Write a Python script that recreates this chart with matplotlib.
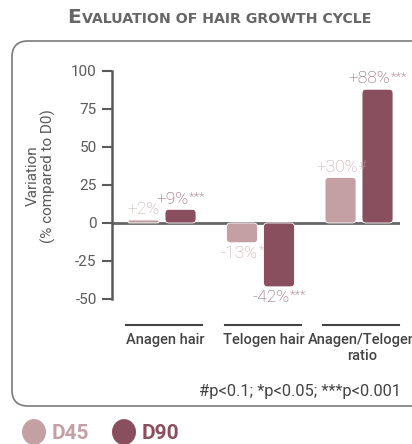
import matplotlib
matplotlib.use("Agg")
import matplotlib.pyplot as plt
from matplotlib.patches import FancyBboxPatch, Circle
from matplotlib.transforms import blended_transform_factory
import numpy as np

categories = ["Anagen hair", "Telogen hair", "Anagen/Telogen\nratio"]
series_names = ["D45", "D90"]
d45_values = [2, -13, 30]
d90_values = [9, -42, 88]
d45_labels = ["+2%", "-13%", "+30%"]
d45_stars = ["", "*", "#"]
d90_labels = ["+9%", "-42%", "+88%"]
d90_stars = ["***", "***", "***"]
yticks = [-50, -25, 0, 25, 50, 75, 100]
title = "Evaluation of hair growth cycle"
footnote = "#p<0.1; *p<0.05; ***p<0.001"
ylabel = "Variation\n(% compared to D0)"

C45 = "#c4a0a5"
C90 = "#8a4f5e"
GRAY = "#5a5a5a"
FONT = "Roboto"

W, H = 412, 444
fig = plt.figure(figsize=(W / 100, H / 100), dpi=100)

def fx(px):
    return px / W

def fy(py):
    return 1 - py / H

ax_l, ax_r, ax_t, ax_b = 112, 400, 71, 299
ax = fig.add_axes([fx(ax_l), fy(ax_b), fx(ax_r - ax_l), (ax_b - ax_t) / H])
ax.set_ylim(-50, 100)
ax.set_xlim(-0.508, 2.416)
ax.patch.set_alpha(0)
for s in ["top", "right", "bottom"]:
    ax.spines[s].set_visible(False)
ax.spines["left"].set_color(GRAY)
ax.spines["left"].set_linewidth(1.8)
ax.set_xticks([])
ax.set_yticks(yticks)
ax.set_yticklabels([str(v) for v in yticks], fontfamily=FONT, fontsize=11, color=GRAY)
ax.tick_params(axis="y", length=7, width=1.5, color=GRAY, pad=4)

ax.axhline(0, color="#666666", lw=2, zorder=1)

px_per_x = (ax_r - ax_l) / (2.416 + 0.508)
px_per_y = (ax_b - ax_t) / 150.0
bw = 31 / px_per_x
off = 18.5 / px_per_x
aspect = px_per_x / px_per_y
r_px = 4.0

def rbar(xc, h, color):
    hpx = abs(h) * px_per_y
    r = min(r_px, hpx / 2) / px_per_x
    y0 = min(0, h)
    p = FancyBboxPatch((xc - bw / 2, y0), bw, abs(h),
                       boxstyle=f"round,pad=0,rounding_size={r}",
                       mutation_aspect=aspect, fc=color, ec="white", lw=0.6, zorder=2)
    ax.add_patch(p)

x = np.arange(len(categories))
for i in range(len(categories)):
    rbar(x[i] - off, d45_values[i], C45)
    rbar(x[i] + off, d90_values[i], C90)

fig.canvas.draw()
renderer = fig.canvas.get_renderer()

def value_label(xc, val, main, star, color):
    if val >= 0:
        va, dy = "bottom", 2
    else:
        va, dy = "top", -2
    t = ax.annotate(main, (xc, val), xytext=(0, dy), textcoords="offset points",
                    ha="center", va=va, fontfamily=FONT, fontweight="light",
                    fontsize=12.5, color=color, annotation_clip=False)
    if not star:
        return
    s = ax.annotate(star, (xc, val), xytext=(0, dy), textcoords="offset points",
                    ha="left", va="top", fontfamily=FONT, fontweight="light",
                    fontsize=9.5, color=color, annotation_clip=False)
    fig.canvas.draw()
    bt = t.get_window_extent(renderer)
    bs = s.get_window_extent(renderer)
    shift = -bs.width / 2
    k = 72 / 100
    t.set_position((shift * k, dy))
    if val >= 0:
        top_off = dy + bt.height * k + 0.5
    else:
        top_off = dy + 0.8
    s.set_position(((shift + bt.width / 2 + 0.5) * k, top_off))

for i in range(len(categories)):
    value_label(x[i] - off, d45_values[i], d45_labels[i], d45_stars[i], C45)
    value_label(x[i] + off, d90_values[i], d90_labels[i], d90_stars[i], C90)

tr = blended_transform_factory(ax.transData, fig.transFigure)
half = 38 / px_per_x
for i, c in enumerate(categories):
    ax.plot([x[i] + 0.02 - half, x[i] + 0.02 + half], [fy(325), fy(325)], transform=tr,
            color="#444444", lw=1.5, clip_on=False)
    ax.text(x[i] + 0.03, fy(333), c, transform=tr, ha="center", va="top",
            fontfamily=FONT, fontweight="medium", fontsize=10.5, color="#444444",
            linespacing=1.2, clip_on=False)

fig.text(fx(41), fy(176), ylabel, rotation=90, ha="center", va="center",
         fontfamily=FONT, fontsize=11, color=GRAY, linespacing=1.1)

fig.text(fx(401), fy(391), footnote, ha="right", va="center",
         fontfamily=FONT, fontsize=11.8, color="#444444")

frame = FancyBboxPatch((fx(12), fy(406)), fx(440 - 12), (406 - 41) / H,
                       boxstyle=f"round,pad=0,rounding_size={fx(16)}",
                       mutation_aspect=W / H, transform=fig.transFigure,
                       fc="none", ec="#7a7a7a", lw=1.2, clip_on=False)
fig.patches.append(frame)

big = fig.text(0, fy(23), title[0].upper(), ha="left", va="baseline",
               fontfamily="DejaVu Sans", fontsize=14.5, fontweight="bold", color="#666666")
small = fig.text(0, fy(23), title[1:].upper(), ha="left", va="baseline",
                 fontfamily="DejaVu Sans", fontsize=10.2, fontweight="bold", color="#666666")
fig.canvas.draw()
wb = big.get_window_extent(renderer).width
ws = small.get_window_extent(renderer).width
x0 = 219 - (wb + ws) / 2
big.set_x(fx(x0))
small.set_x(fx(x0 + wb + 1))

for cx, name, col in [(34, series_names[0], C45), (124, series_names[1], C90)]:
    circ = Circle((fx(cx), fy(432)), fx(12), fc=col, ec="none")
    circ.set_transform(fig.transFigure)
    fig.patches.append(circ)
    fig.text(fx(cx + 18), fy(433), name, ha="left", va="center",
             fontfamily=FONT, fontweight="bold", fontsize=15, color=col)

fig.savefig("out.png", dpi=100)
